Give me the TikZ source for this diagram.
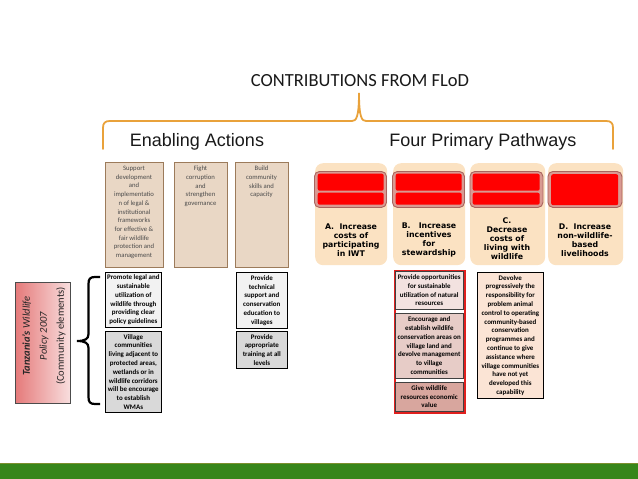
\documentclass[tikz,border=0pt]{standalone}
\usepackage{fontspec}
\setmainfont{Carlito}
\newfontfamily\arialf{Liberation Sans}
\newfontfamily\dejaf{DejaVu Sans}
\definecolor{enabFill}{HTML}{E9D7C5}
\definecolor{enabBorder}{HTML}{9C7B5B}
\definecolor{pathFill}{HTML}{FBE2C2}
\definecolor{contFill}{HTML}{D99A92}
\definecolor{contBorder}{HTML}{A9645E}
\definecolor{barRed}{HTML}{FF0000}
\definecolor{braceOrange}{HTML}{E9A23B}
\definecolor{greyLight}{HTML}{F2F2F2}
\definecolor{greyDark}{HTML}{D9D9D9}
\definecolor{pinkA}{HTML}{F3E2E0}
\definecolor{pinkB}{HTML}{E7CCC7}
\definecolor{pinkC}{HTML}{D8A69E}
\definecolor{outerRed}{HTML}{E0201E}
\definecolor{devFill}{HTML}{FBE4D5}
\definecolor{barGreen}{HTML}{37861A}
\definecolor{barGreenEdge}{HTML}{7C8F2E}
\definecolor{polLeft}{HTML}{E57A7A}
\definecolor{polRight}{HTML}{F8DEDE}
\definecolor{enabText}{HTML}{4A4A4A}
\begin{document}
\begin{tikzpicture}[x=1pt,y=-1pt,
  enab/.style={draw=enabBorder, fill=enabFill, line width=0.8pt, anchor=north west, inner sep=0pt},
  enabtxt/.style={anchor=north, align=center, text=enabText, font=\fontsize{6.7}{8.7}\selectfont, inner sep=0pt},
  pathbox/.style={fill=pathFill, draw=none, rounded corners=8pt, anchor=north west, inner sep=0pt},
  contbox/.style={fill=contFill, draw=contBorder, line width=0.9pt, rounded corners=5pt, anchor=north west, inner sep=0pt},
  redbar/.style={fill=barRed, draw=none, rounded corners=2pt, anchor=north west, inner sep=0pt},
  pathtxt/.style={align=center, font=\dejaf\bfseries\fontsize{7.8}{9}\selectfont, inner sep=0pt},
  actbox/.style={draw=black, line width=0.7pt, anchor=north west, inner sep=0pt, align=center, font=\bfseries\fontsize{6.95}{8.8}\selectfont},
  pinkbox/.style={draw=black!75, line width=0.5pt, anchor=north west, inner sep=0pt, align=center, font=\bfseries\fontsize{6.95}{8.8}\selectfont},
  bracepen/.style={draw=black, line width=2.2pt},
  orangepen/.style={draw=braceOrange, line width=1.8pt, line cap=round},
  heading/.style={font=\arialf\fontsize{18}{20}\selectfont, text=black!90}
]
\useasboundingbox (0,0) rectangle (638,479);

% title and braces
\node[font=\fontsize{18.5}{20}\selectfont, text=black!90] (title) at (360,81) {CONTRIBUTIONS FROM FLoD};
\coordinate (obl) at (103,149);
\coordinate (obr) at (613,149);
\coordinate (otip) at (359,93);
\draw[orangepen] (obl) -- (103,128) .. controls (103,123) and (105,121) .. (110,121) -- (352,121)
  .. controls (356,121) and (359,118) .. (otip) .. controls (359,118) and (362,121) .. (366,121)
  -- (606,121) .. controls (611,121) and (613,123) .. (613,128) -- (obr);
\node[heading] (enh) at (197,142) {Enabling Actions};
\node[heading] (fph) at (483,142) {Four Primary Pathways};

% enabling actions
\node[enab, minimum width=58pt, minimum height=105pt] (e1) at (105,162) {};
\node[enabtxt] (e1t) at (134,166) {Support\\development\\and\\implementatio\\n of legal \&\\institutional\\frameworks\\for effective \&\\fair wildlife\\protection and\\management};
\node[enab, minimum width=53pt, minimum height=105pt] (e2) at (174,162) {};
\node[enabtxt] (e2t) at (200.5,166) {Fight\\corruption\\and\\strengthen\\governance};
\node[enab, minimum width=53pt, minimum height=105pt] (e3) at (235,162) {};
\node[enabtxt] (e3t) at (261.5,166) {Build\\community\\skills and\\capacity};

% pathways
\node[pathbox, minimum width=72pt, minimum height=102pt] (pA) at (315,163) {};
\node[contbox, minimum width=72pt, minimum height=36pt] (cA) at (314,171) {};
\node[redbar, minimum width=66pt, minimum height=17pt] (rA1) at (317.5,173.5) {};
\node[redbar, minimum width=66pt, minimum height=12pt] (rA2) at (317.5,192.5) {};
\node[pathtxt] (tA) at (351,240) {A.\ \ Increase\\costs of\\participating\\in IWT};

\node[pathbox, minimum width=72pt, minimum height=102pt] (pB) at (393,163) {};
\node[contbox, minimum width=72pt, minimum height=36pt] (cB) at (392,171) {};
\node[redbar, minimum width=66pt, minimum height=17pt] (rB1) at (395.5,173.5) {};
\node[redbar, minimum width=66pt, minimum height=12pt] (rB2) at (395.5,192.5) {};
\node[pathtxt] (tB) at (429,240) {B.\ \ \ Increase\\incentives\\for\\stewardship};

\node[pathbox, minimum width=75pt, minimum height=102pt] (pC) at (470,163) {};
\node[contbox, minimum width=73pt, minimum height=36pt] (cC) at (469.5,171) {};
\node[redbar, minimum width=67pt, minimum height=17pt] (rC1) at (472.5,173.5) {};
\node[redbar, minimum width=67pt, minimum height=12pt] (rC2) at (472.5,192.5) {};
\node[pathtxt] (tC) at (507,239) {C.\\Decrease\\costs of\\living with\\wildlife};

\node[pathbox, minimum width=75pt, minimum height=102pt] (pD) at (548,163) {};
\node[contbox, minimum width=74pt, minimum height=36pt] (cD) at (547.5,171) {};
\node[redbar, minimum width=67pt, minimum height=31pt] (rD1) at (551,174) {};
\node[pathtxt] (tD) at (585,240) {D.\ \ Increase\\non-wildlife-\\based\\livelihoods};

% policy box
\node[draw=black!70, line width=0.5pt, left color=polLeft, right color=polRight, minimum width=55pt, minimum height=121pt, anchor=north west, inner sep=0pt] (pol) at (15,282) {};
\node[rotate=90, align=center, font=\fontsize{10.5}{17}\selectfont, text=black!85] (polt) at (44,336) {{\bfseries\itshape Tanzania's} {\itshape Wildlife}\\{\itshape Policy 2007}\\(Community elements)};

% black brace
\coordinate (bt) at (100,277);
\coordinate (bb) at (100,404);
\coordinate (btip) at (77,341);
\draw[bracepen] (bt) -- (95,277) .. controls (90,277) and (88.5,279) .. (88.5,284) -- (88.5,334)
  .. controls (88.5,339) and (85,341) .. (btip) .. controls (85,341) and (88.5,343) .. (88.5,348)
  -- (88.5,397) .. controls (88.5,402) and (90,404) .. (95,404) -- (bb);

% action boxes
\node[actbox, fill=greyLight, minimum width=56pt, minimum height=55pt] (g1) at (105,272) {Promote legal and\\sustainable\\utilization of\\wildlife through\\providing clear\\policy guidelines};
\node[actbox, fill=greyDark, minimum width=56pt, minimum height=81pt] (g2) at (105,331) {Village\\communities\\living adjacent to\\protected areas,\\wetlands or in\\wildlife corridors\\will be encourage\\to establish\\WMAs};
\node[actbox, fill=greyLight, minimum width=51pt, minimum height=56pt] (g3) at (236,272) {Provide\\technical\\support and\\conservation\\education to\\villages};
\node[actbox, fill=greyDark, minimum width=51pt, minimum height=37pt] (g4) at (236,331) {Provide\\appropriate\\training at all\\levels};

% red group
\node[draw=outerRed, line width=2pt, fill=white, minimum width=70pt, minimum height=142pt, anchor=north west, inner sep=0pt] (rg) at (394,270) {};
\node[pinkbox, fill=pinkA, minimum width=68pt, minimum height=38pt] (r1) at (395,271) {Provide opportunities\\for sustainable\\utilization of natural\\resources};
\node[pinkbox, fill=pinkB, minimum width=68pt, minimum height=65pt] (r2) at (395,313) {Encourage and\\establish wildlife\\conservation areas on\\village land and\\devolve management\\to village\\communities};
\node[pinkbox, fill=pinkC, minimum width=68pt, minimum height=29pt] (r3) at (395,382) {Give wildlife\\resources economic\\value};

\node[actbox, fill=devFill, minimum width=66pt, minimum height=126pt] (dv) at (477,272) {Devolve\\progressively the\\responsibility for\\problem animal\\control to operating\\community-based\\conservation\\programmes and\\continue to give\\assistance where\\village communities\\have not yet\\developed this\\capability};

% green bar
\fill[barGreen] (0,463) rectangle (638,479);
\draw[barGreenEdge, line width=0.8pt] (0,463) -- (638,463);
\end{tikzpicture}
\end{document}
